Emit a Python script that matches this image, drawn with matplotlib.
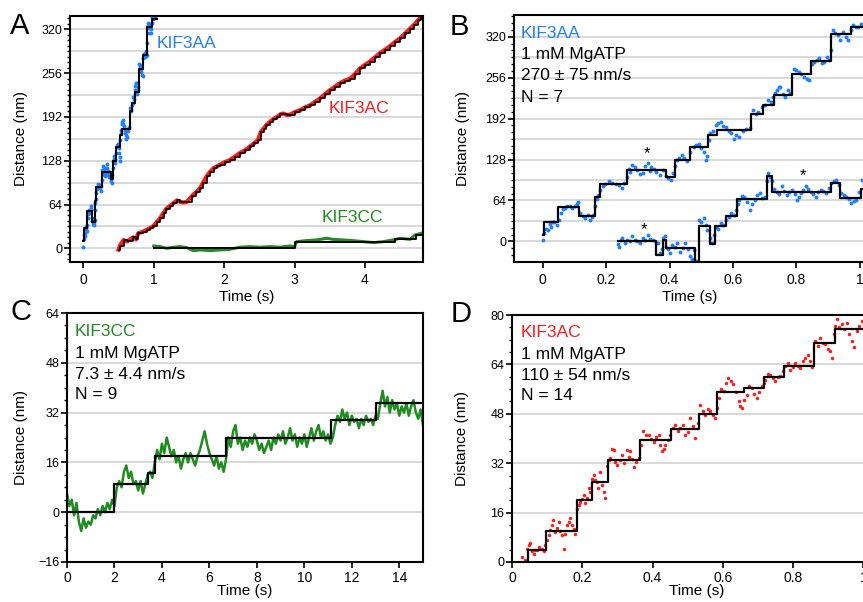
import numpy as np
import matplotlib
matplotlib.use("Agg")
import matplotlib.pyplot as plt
from matplotlib.ticker import MultipleLocator, FuncFormatter

plt.rcParams['font.family'] = ['Liberation Sans', 'DejaVu Sans']

W, H = 863, 602
BLUE = '#1f7fff'
RED = '#ff1a1a'
GREEN = '#1e8c1e'

# KIF3AA, run 1 (panel A blue and upper trace of panel B)
aa1_time = [0.000, 0.003, 0.010, 0.016, 0.022, 0.027, 0.032, 0.037, 0.045, 0.053, 0.059, 0.064,
            0.070, 0.078, 0.086, 0.094, 0.102, 0.107, 0.112, 0.118, 0.126, 0.134, 0.142, 0.150,
            0.155, 0.160, 0.166, 0.171, 0.176, 0.182, 0.190, 0.198, 0.208, 0.219, 0.230, 0.241,
            0.250, 0.257, 0.265, 0.271, 0.277, 0.283, 0.291, 0.299, 0.308, 0.316, 0.324, 0.332,
            0.337, 0.342, 0.350, 0.358, 0.369, 0.380, 0.388, 0.396, 0.404, 0.412, 0.417, 0.422,
            0.430, 0.439, 0.447, 0.455, 0.465, 0.476, 0.484, 0.492, 0.500, 0.508, 0.514, 0.519,
            0.524, 0.529, 0.537, 0.545, 0.553, 0.561, 0.569, 0.578, 0.586, 0.594, 0.602, 0.610,
            0.620, 0.631, 0.641, 0.652, 0.663, 0.671, 0.679, 0.690, 0.701, 0.711, 0.719, 0.727,
            0.733, 0.738, 0.744, 0.749, 0.757, 0.765, 0.773, 0.781, 0.791, 0.799, 0.807, 0.815,
            0.824, 0.832, 0.840, 0.848, 0.856, 0.864, 0.872, 0.880, 0.888, 0.896, 0.904, 0.910,
            0.914, 0.922, 0.930, 0.938, 0.947, 0.955, 0.963, 0.971, 0.979, 0.987, 0.995, 1.003, 1.011]
aa1_dist = [2, 13, 20, 18, 28, 23, 30, 31, 26, 34, 44, 50,
            52, 56, 55, 52, 56, 58, 62, 44, 40, 36, 42, 34,
            38, 42, 56, 66, 72, 81, 86, 89, 94, 92, 90, 88,
            84, 91, 100, 114, 108, 120, 116, 112, 106, 107, 118, 123,
            110, 117, 113, 108, 104, 112, 103, 99, 96, 107, 118, 127,
            131, 135, 130, 125, 140, 148, 151, 153, 146, 140, 128, 133,
            158, 169, 173, 182, 185, 187, 181, 179, 172, 169, 160, 166,
            163, 172, 176, 177, 205, 200, 203, 210, 213, 221, 218, 226,
            232, 237, 242, 242, 230, 226, 236, 232, 270, 268, 265, 262,
            257, 254, 252, 278, 281, 284, 286, 279, 281, 288, 283, 300,
            330, 326, 322, 315, 328, 320, 315, 330, 338, 336, 335, 340, 338]
aa1_step_time = [0.0, 0.005, 0.048, 0.116, 0.164, 0.181, 0.265, 0.390, 0.417, 0.465, 0.522,
                 0.549, 0.656, 0.695, 0.730, 0.786, 0.847, 0.909, 0.973, 1.04]
aa1_step_dist = [10, 30, 54, 39, 69, 90, 111, 101, 128, 148, 166,
                 174, 200, 213, 229, 262, 282, 324, 335, 335]

# KIF3AA, run 2 (lower trace of panel B)
aa2_time = [0.238, 0.241, 0.246, 0.251, 0.259, 0.267, 0.275, 0.283, 0.291, 0.299, 0.307, 0.316,
            0.324, 0.332, 0.340, 0.348, 0.356, 0.364, 0.371, 0.376, 0.380, 0.385, 0.390, 0.396,
            0.401, 0.409, 0.417, 0.425, 0.433, 0.441, 0.449, 0.457, 0.465, 0.471, 0.476, 0.484,
            0.492, 0.500, 0.508, 0.514, 0.519, 0.527, 0.535, 0.540, 0.545, 0.553, 0.561, 0.570,
            0.578, 0.586, 0.594, 0.602, 0.610, 0.615, 0.620, 0.628, 0.636, 0.644, 0.652, 0.660,
            0.668, 0.676, 0.684, 0.692, 0.701, 0.706, 0.711, 0.716, 0.722, 0.730, 0.738, 0.746,
            0.754, 0.762, 0.770, 0.778, 0.786, 0.794, 0.802, 0.808, 0.813, 0.821, 0.829, 0.837,
            0.845, 0.853, 0.861, 0.869, 0.877, 0.885, 0.893, 0.901, 0.909, 0.917, 0.925, 0.933,
            0.941, 0.949, 0.957, 0.965, 0.973, 0.981, 0.989, 0.997, 1.005, 1.013]
aa2_dist = [-4, -8, 2, 5, -2, 3, 1, 8, 3, 0, -3, 5,
            2, 10, 4, 3, -3, -3, -18, -12, 5, 8, -8, -12,
            -18, -5, -8, -2, -16, -10, -3, -12, -23, -28, -13, -30,
            34, 30, 36, 26, 18, 5, -3, 10, 23, 20, 29, 26,
            34, 38, 44, 41, 49, 58, 65, 71, 70, 62, 49, 58,
            65, 72, 75, 68, 70, 95, 107, 100, 94, 82, 78, 74,
            86, 79, 73, 77, 81, 74, 65, 70, 75, 80, 86, 82,
            78, 74, 70, 77, 81, 79, 75, 84, 91, 94, 96, 88,
            75, 72, 70, 66, 60, 63, 65, 78, 96, 90]
aa2_step_time = [0.238, 0.358, 0.380, 0.388, 0.481, 0.492, 0.527, 0.542, 0.578, 0.613,
                 0.706, 0.722, 0.909, 0.938, 1.002, 1.04]
aa2_step_dist = [0, -21, 1.5, -10.5, -45, 24.5, -4, 24.5, 39, 66.6,
                 102.5, 77, 91, 67.6, 82, 82]

# KIF3AC long run (panel A)
ac_long_time = [0.50, 0.52, 0.57, 0.62, 0.71, 0.75, 0.78, 0.84, 0.90, 0.95, 0.99, 1.04, 1.09,
                1.14, 1.18, 1.23, 1.28, 1.33, 1.37, 1.42, 1.47, 1.54, 1.60, 1.66, 1.70, 1.75,
                1.80, 1.85, 1.90, 1.94, 2.01, 2.08, 2.15, 2.22, 2.29, 2.37, 2.43, 2.48, 2.52,
                2.56, 2.60, 2.65, 2.70, 2.75, 2.80, 2.84, 2.89, 2.93, 3.00, 3.08, 3.15, 3.22,
                3.29, 3.36, 3.43, 3.50, 3.57, 3.64, 3.71, 3.79, 3.86, 3.93, 4.00, 4.07, 4.14,
                4.21, 4.28, 4.35, 4.42, 4.50, 4.57, 4.64, 4.70, 4.76, 4.80]
ac_long_dist = [-2, 4, 12, 10, 16, 13, 22, 24, 27, 30, 32, 38, 44,
                52, 58, 62, 66, 70, 68, 67, 68, 76, 82, 88, 96, 105,
                112, 117, 120, 122, 126, 129, 134, 139, 143, 149, 154, 158, 170,
                175, 180, 185, 189, 192, 196, 197, 195, 195, 199, 202, 206, 209,
                214, 219, 225, 231, 236, 241, 245, 248, 255, 263, 268, 273, 279,
                285, 290, 295, 301, 307, 314, 321, 327, 334, 339]

# KIF3CC long run (panel A)
cc_long_time = [1.00, 1.09, 1.18, 1.28, 1.37, 1.47, 1.56, 1.66, 1.80, 1.94, 2.08, 2.22, 2.37,
                2.51, 2.65, 2.79, 2.93, 3.00, 3.03, 3.17, 3.31, 3.46, 3.55, 3.69, 3.83, 3.98,
                4.12, 4.26, 4.40, 4.50, 4.64, 4.71, 4.80]
cc_long_dist = [3.4, 2.4, 0, 1.5, 2.4, 1, -3.4, -2.4, -3.4, -2.4, -1.5, 1.5, 2.4,
                1.5, 2.4, 1.5, 3.4, 2.4, 9.7, 11.2, 12.2, 14.6, 13, 12.2, 11.2, 9.7,
                8.3, 9.7, 12.2, 14.6, 13.1, 19.5, 21.9]
cc_long_step_time = [1.0, 3.0, 4.42, 4.72, 4.82]
cc_long_step_dist = [0, 9, 13, 19, 19]

# KIF3CC run (panel C), sampled every 0.1 s
cc_dist = [6, 2, 4, -1, 3, -3, -6, -2, -5, -3,
           -4, -1, -2, 1, -1, 2, 0, 3, 1, 4,
           2, 8, 10, 8, 13, 15, 11, 13, 9, 10,
           7, 10, 6, 9, 12, 13, 11, 16, 20, 17,
           22, 19, 24, 21, 18, 20, 16, 18, 14, 17,
           19, 16, 19, 17, 15, 18, 20, 23, 26, 22,
           19, 17, 15, 18, 14, 16, 13, 17, 24, 21,
           26, 28, 22, 24, 20, 23, 21, 24, 22, 25,
           23, 20, 22, 19, 21, 23, 20, 24, 22, 25,
           23, 26, 22, 24, 27, 23, 25, 21, 24, 22,
           25, 21, 24, 27, 23, 26, 28, 24, 26, 23,
           25, 22, 24, 28, 31, 29, 33, 30, 32, 28,
           31, 29, 30, 27, 30, 28, 31, 29, 30, 28,
           31, 30, 35, 39, 34, 37, 32, 36, 33, 35,
           31, 34, 32, 35, 31, 34, 36, 32, 30, 33, 28]
cc_time = np.arange(len(cc_dist)) * 0.1
cc_step_time = [0, 2.0, 3.41, 3.72, 6.69, 11.14, 13.02, 15]
cc_step_dist = [0, 9, 12.5, 18, 24, 29.5, 35, 35]

# KIF3AC run (panel D)
ac_time = [0.028, 0.038, 0.043, 0.048, 0.052, 0.057, 0.062, 0.066, 0.071, 0.078, 0.085, 0.090,
           0.095, 0.100, 0.104, 0.109, 0.114, 0.118, 0.123, 0.128, 0.133, 0.138, 0.142, 0.147,
           0.152, 0.156, 0.161, 0.166, 0.170, 0.175, 0.180, 0.185, 0.190, 0.194, 0.199, 0.204,
           0.208, 0.213, 0.218, 0.223, 0.228, 0.232, 0.237, 0.242, 0.246, 0.251, 0.256, 0.261,
           0.265, 0.270, 0.275, 0.280, 0.284, 0.289, 0.294, 0.299, 0.306, 0.313, 0.320, 0.327,
           0.332, 0.336, 0.341, 0.346, 0.353, 0.360, 0.367, 0.374, 0.382, 0.389, 0.396, 0.403,
           0.410, 0.417, 0.422, 0.427, 0.432, 0.436, 0.443, 0.450, 0.457, 0.464, 0.471, 0.479,
           0.486, 0.493, 0.500, 0.507, 0.514, 0.521, 0.528, 0.536, 0.543, 0.550, 0.557, 0.564,
           0.571, 0.578, 0.583, 0.588, 0.595, 0.602, 0.609, 0.616, 0.623, 0.630, 0.637, 0.645,
           0.650, 0.654, 0.661, 0.668, 0.675, 0.682, 0.690, 0.697, 0.704, 0.711, 0.716, 0.720,
           0.728, 0.735, 0.742, 0.749, 0.756, 0.763, 0.770, 0.777, 0.784, 0.791, 0.799, 0.806,
           0.813, 0.820, 0.827, 0.834, 0.841, 0.848, 0.855, 0.863, 0.870, 0.877, 0.884, 0.891,
           0.898, 0.905, 0.910, 0.915, 0.920, 0.924, 0.931, 0.938, 0.945, 0.953, 0.960, 0.967,
           0.974, 0.981, 0.988, 0.995, 1.002]
ac_dist = [1.6, 0.5, 4.3, 5.5, 6.0, 3.5, 2.7, 4.0, 3.8, 5.0, 4.3, 3.6,
           5.4, 7.0, 8.7, 10.5, 11.9, 13.5, 9.8, 11.0, 13.0, 10.0, 8.7, 4.3,
           9.0, 11.9, 13.0, 14.1, 12.0, 10.8, 9.0, 17.3, 18.5, 19.5, 20.5, 21.7,
           19.0, 20.6, 24.0, 22.8, 27.0, 28.2, 26.5, 26.0, 24.0, 29.3, 25.0, 22.8,
           20.6, 31.0, 33.0, 33.6, 36.5, 36.3, 32.5, 31.4, 33.0, 34.7, 32.0, 36.3,
           34.0, 35.8, 33.5, 30.9, 32.5, 33.6, 38.0, 42.3, 41.0, 41.2, 40.0, 39.0,
           40.5, 41.2, 38.0, 35.8, 36.5, 37.9, 39.5, 41.2, 43.5, 44.4, 42.5, 43.4,
           44.5, 41.2, 42.0, 46.6, 44.0, 40.1, 45.0, 50.9, 49.0, 47.7, 49.5, 48.8,
           47.5, 46.6, 50.0, 53.1, 56.0, 55.3, 58.0, 59.6, 58.5, 57.5, 55.0, 52.0,
           50.5, 49.9, 52.5, 54.2, 57.0, 56.4, 54.5, 53.1, 55.0, 56.9, 58.0, 59.1,
           61.0, 60.7, 59.5, 58.5, 60.0, 60.2, 62.0, 63.4, 64.5, 62.3, 63.0, 64.5,
           63.5, 62.9, 65.0, 66.1, 67.0, 65.0, 63.0, 71.5, 70.0, 72.6, 71.0, 70.5,
           69.0, 68.3, 66.0, 73.7, 76.5, 78.6, 76.0, 77.0, 75.5, 77.5, 74.0, 71.5,
           69.5, 74.8, 76.5, 78.0, 77.0]
ac_step_time = [0.044, 0.045, 0.098, 0.185, 0.227, 0.272, 0.363, 0.452, 0.532, 0.583,
                0.659, 0.718, 0.775, 0.860, 0.919, 1.05]
ac_step_dist = [0, 4, 10, 20, 26, 33, 39.5, 43, 48, 55,
                56.5, 60, 63.5, 71, 75.5, 75.5]

fig = plt.figure(figsize=(W / 100, H / 100), dpi=100)


def px_axes(left, top, right, bottom):
    return fig.add_axes([left / W, 1 - bottom / H, (right - left) / W, (bottom - top) / H])


def ftext(x, y, s, **kw):
    fig.text(x / W, 1 - y / H, s, **kw)


def style(ax, xlim, ylim, xmajor, ymajor, yminor, grid, label_x, label_y, xpad=4):
    ax.set_xlim(*xlim)
    ax.set_ylim(*ylim)
    ax.xaxis.set_major_locator(MultipleLocator(xmajor))
    ax.yaxis.set_major_locator(MultipleLocator(ymajor))
    ax.yaxis.set_minor_locator(MultipleLocator(yminor))
    ax.xaxis.set_major_formatter(FuncFormatter(lambda v, p: f'{v:g}'))
    for g in grid:
        ax.axhline(g, color='#d2d2d2', lw=1.2, zorder=0)
    for s in ax.spines.values():
        s.set_linewidth(1.5)
    ax.tick_params(axis='y', which='major', length=4, width=1.2, labelsize=9, pad=1.5)
    ax.tick_params(axis='y', which='minor', length=2.5, width=1.0)
    ax.tick_params(axis='x', which='major', length=4, width=1.2, labelsize=10, pad=xpad)
    ax.set_ylabel('Distance (nm)', fontsize=11)
    ax.set_xlabel('Time (s)', fontsize=11)
    ax.yaxis.set_label_coords(label_y, 0.5)
    ax.xaxis.set_label_coords(0.5, label_x)


# Panel A
axA = px_axes(70, 15.7, 422.7, 261.7)
style(axA, (-0.19, 4.82), (-19.6, 340), 1, 64, 8, range(0, 321, 32), -0.115, -0.118)
axA.plot(ac_long_time, ac_long_dist, color=RED, lw=3, zorder=2)
axA.plot(ac_long_time, ac_long_dist, color='black', lw=1.2, drawstyle='steps-post', zorder=3)
axA.plot(cc_long_time, cc_long_dist, color=GREEN, lw=2.2, zorder=2)
axA.step(cc_long_step_time, cc_long_step_dist, where='post', color='black', lw=1.4, zorder=3)
axA.plot(aa1_time, aa1_dist, 'o', color=BLUE, ms=2.8, mec='none', zorder=2)
axA.step(aa1_step_time, aa1_step_dist, where='post', color='black', lw=1.5, zorder=3)

# Panel B
axB = px_axes(514, 15, 866.3, 261.7)
style(axB, (-0.09, 1.02), (-31.7, 354), 0.2, 64, 64 / 6, range(0, 321, 32), -0.115, -0.125)
axB.spines['right'].set_visible(False)
axB.plot(aa1_time, aa1_dist, 'o', color=BLUE, ms=2.8, mec='none', zorder=2)
axB.step(aa1_step_time, aa1_step_dist, where='post', color='black', lw=1.6, zorder=3)
axB.plot(aa2_time, aa2_dist, 'o', color=BLUE, ms=2.8, mec='none', zorder=2)
axB.step(aa2_step_time, aa2_step_dist, where='post', color='black', lw=1.6, zorder=3)
for tx, ty in [(0.329, 130), (0.321, 11), (0.821, 96)]:
    axB.text(tx, ty, '*', ha='center', va='baseline', fontsize=12)

# Panel C
axC = px_axes(67, 313, 423, 562)
style(axC, (0, 15), (-16, 64), 2, 16, 4, [0, 16, 32, 48], -0.09, -0.109, xpad=2.5)
axC.plot(cc_time, cc_dist, color=GREEN, lw=1.8, zorder=2)
axC.step(cc_step_time, cc_step_dist, where='post', color='black', lw=1.6, zorder=3)

# Panel D
axD = px_axes(512, 315, 881, 562)
style(axD, (0, 1.05), (0, 80), 0.2, 16, 4, [16, 32, 48, 64], -0.09, -0.116, xpad=2.5)
axD.spines['right'].set_visible(False)
axD.plot(ac_time, ac_dist, 'o', color=RED, ms=2.5, mec='none', zorder=2)
axD.step(ac_step_time, ac_step_dist, where='post', color='black', lw=1.6, zorder=3)

# panel letters
for letter, x, y in [('A', 10, 34), ('B', 450, 35), ('C', 10, 320), ('D', 451, 322)]:
    ftext(x, y, letter, fontsize=21, va='baseline', ha='left')

# labels inside panel A
ftext(157, 48, 'KIF3AA', color=BLUE, fontsize=12.5, va='baseline')
ftext(329, 113, 'KIF3AC', color=RED, fontsize=12.5, va='baseline')
ftext(322, 222, 'KIF3CC', color=GREEN, fontsize=12.5, va='baseline')

# condition blocks in B, C, D
blocks = [
    (521, [38.3, 59.3, 80, 101.7], 'KIF3AA', BLUE, '270 ± 75 nm/s', 'N = 7'),
    (75, [335.7, 358.3, 379, 399.3], 'KIF3CC', GREEN, '7.3 ± 4.4 nm/s', 'N = 9'),
    (521, [336.7, 359, 380, 400], 'KIF3AC', RED, '110 ± 54 nm/s', 'N = 14'),
]
for x, ys, name, col, speed, n in blocks:
    ftext(x, ys[0], name, color=col, fontsize=12.5, va='baseline')
    ftext(x, ys[1], '1 mM MgATP', fontsize=12.5, va='baseline')
    ftext(x, ys[2], speed, fontsize=12.5, va='baseline')
    ftext(x, ys[3], n, fontsize=12.5, va='baseline')

fig.savefig('out.png', dpi=100)
